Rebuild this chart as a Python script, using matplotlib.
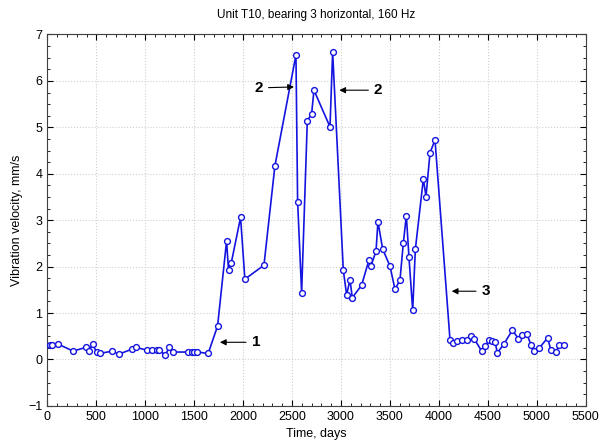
import numpy as np
import matplotlib
matplotlib.use('Agg')
import matplotlib.pyplot as plt
from matplotlib.ticker import MultipleLocator

plt.rcParams['font.family'] = ['Liberation Sans', 'DejaVu Sans']

# measured series (days, mm/s)
days = [25, 52, 110, 263, 393, 427, 461, 502, 536, 665, 727, 860, 904, 1020,
        1068, 1115, 1143, 1204, 1245, 1286, 1432, 1473, 1497, 1531, 1643, 1739,
        1831, 1851, 1879, 1974, 2018, 2213, 2325, 2540, 2557, 2598, 2656, 2700,
        2724, 2888, 2915, 3024, 3058, 3092, 3116, 3211, 3286, 3307, 3358, 3378,
        3426, 3501, 3552, 3603, 3637, 3668, 3695, 3733, 3760, 3842, 3869, 3910,
        3961, 4114, 4149, 4183, 4240, 4285, 4326, 4360, 4438, 4472, 4517, 4541,
        4575, 4598, 4667, 4752, 4813, 4848, 4899, 4943, 4973, 5025, 5113, 5144,
        5195, 5232, 5280]
velocity = [0.32, 0.31, 0.33, 0.18, 0.26, 0.18, 0.33, 0.16, 0.13, 0.18, 0.11,
            0.22, 0.26, 0.20, 0.20, 0.21, 0.21, 0.09, 0.26, 0.16, 0.16, 0.16,
            0.16, 0.16, 0.13, 0.72, 2.55, 1.92, 2.08, 3.06, 1.73, 2.03, 4.17,
            6.56, 3.40, 1.44, 5.14, 5.29, 5.80, 5.01, 6.62, 1.92, 1.39, 1.72,
            1.33, 1.60, 2.14, 2.02, 2.33, 2.97, 2.38, 2.01, 1.51, 1.71, 2.50,
            3.10, 2.20, 1.06, 2.37, 3.89, 3.51, 4.45, 4.73, 0.43, 0.36, 0.40,
            0.42, 0.43, 0.50, 0.45, 0.18, 0.29, 0.42, 0.40, 0.38, 0.14, 0.34,
            0.63, 0.45, 0.52, 0.55, 0.31, 0.18, 0.24, 0.47, 0.20, 0.16, 0.31,
            0.31]

# annotations: label, text position, arrow tip
notes = [('1', (2130, 0.37), (1763, 0.37)),
         ('2', (2160, 5.85), (2520, 5.87)),
         ('2', (3380, 5.80), (2983, 5.80)),
         ('3', (4480, 1.47), (4132, 1.47))]

fig = plt.figure(figsize=(6, 4.48), dpi=100)
ax = fig.add_axes([0.079, 0.094, 0.897, 0.829])

ax.plot(days, velocity, color='#1414e0', lw=1.2, marker='o', ms=4.2,
        mfc='white', mec='#1414e0', mew=1.0, zorder=3)

for lab, txt, tip in notes:
    ax.annotate(lab, xy=tip, xytext=txt, fontsize=11, fontweight='bold',
                ha='center', va='center',
                arrowprops=dict(arrowstyle='-|>', color='black', lw=0.8,
                                mutation_scale=9, shrinkA=2, shrinkB=0))

ax.set_xlim(0, 5500)
ax.set_ylim(-1, 7)
ax.xaxis.set_major_locator(MultipleLocator(500))
ax.xaxis.set_minor_locator(MultipleLocator(100))
ax.yaxis.set_major_locator(MultipleLocator(1))
ax.yaxis.set_minor_locator(MultipleLocator(0.25))
ax.tick_params(which='both', direction='in', top=True, right=True,
               labelsize=9)
ax.tick_params(which='major', length=4)
ax.tick_params(which='minor', length=2)
for s in ax.spines.values():
    s.set_color('#404040')
ax.grid(True, which='major', color='#d0d0d0', linestyle=':', lw=0.8)

ax.set_title('Unit T10, bearing 3 horizontal, 160 Hz', fontsize=8.5, pad=12)
ax.set_xlabel('Time, days', fontsize=9)
ax.set_ylabel('Vibration velocity, mm/s', fontsize=9)

fig.savefig('out.png', dpi=100)
